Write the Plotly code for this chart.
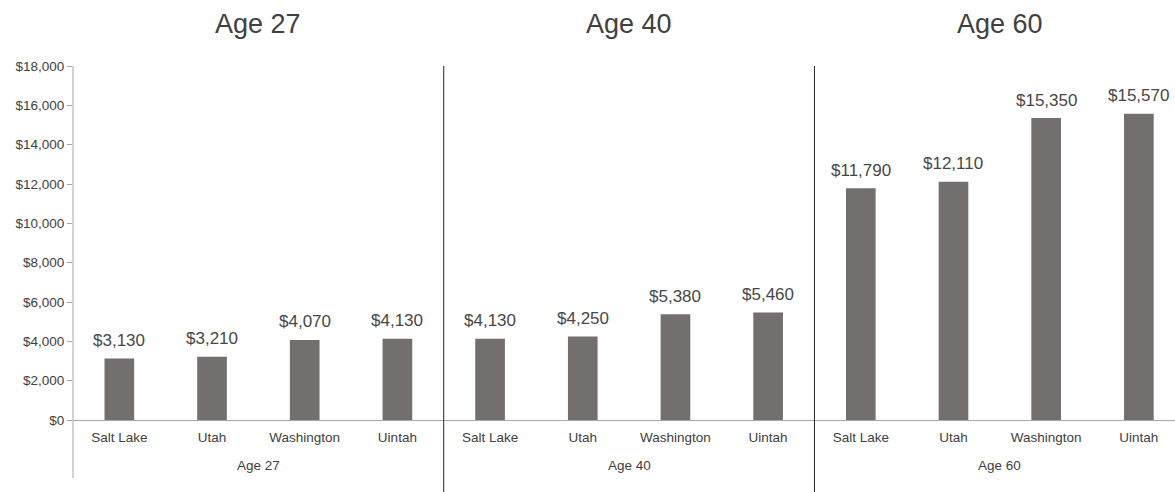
import plotly.graph_objects as go

groups = ["Age 27", "Age 40", "Age 60"]
counties = ["Salt Lake", "Utah", "Washington", "Uintah"]
values = {
    "Age 27": [3130, 3210, 4070, 4130],
    "Age 40": [4130, 4250, 5380, 5460],
    "Age 60": [11790, 12110, 15350, 15570],
}
y_ticks = [0, 2000, 4000, 6000, 8000, 10000, 12000, 14000, 16000, 18000]

FONT = "Liberation Sans, Arial, sans-serif"
TXT = "#404040"
LBL = "#474747"
BAR = "#736f6e"
AXIS = "#a6a6a6"

xs, ys, labels, ticktext = [], [], [], []
i = 0
for g in groups:
    for c, v in zip(counties, values[g]):
        xs.append(i)
        ys.append(v)
        labels.append(f"${v:,}")
        ticktext.append(c)
        i += 1

fig = go.Figure()
fig.add_trace(go.Bar(
    x=xs, y=ys,
    marker=dict(color=BAR, line=dict(width=0)),
    width=0.32, showlegend=False, hoverinfo="x+y",
))

# data labels above the bars
for x, y, t in zip(xs, ys, labels):
    fig.add_annotation(x=x, y=y, xref="x", yref="y", text=t, showarrow=False,
                       yanchor="middle", yshift=18,
                       font=dict(size=17, color=LBL, family=FONT))

W, H = 1175, 492
top, bottom, left = 66, 420, 73
plot_h = bottom - top

fig.update_layout(
    width=W, height=H,
    margin=dict(l=left, r=0, t=top, b=H - bottom, pad=0),
    paper_bgcolor="white", plot_bgcolor="white",
    font=dict(family=FONT, color=TXT),
    xaxis=dict(
        range=[-0.5, 11.39], tickvals=xs, ticktext=ticktext,
        showgrid=False, zeroline=False, showline=True, linecolor=AXIS,
        linewidth=1, ticks="outside", ticklen=5, tickcolor="rgba(0,0,0,0)",
        tickfont=dict(size=13.5, color=TXT, family=FONT),
    ),
    yaxis=dict(
        range=[0, 18000], tickvals=y_ticks,
        ticktext=[f"${v:,}" for v in y_ticks],
        showgrid=False, zeroline=False, showline=False,
        ticks="outside", ticklen=5, tickcolor=AXIS,
        tickfont=dict(size=13.5, color=TXT, family=FONT),
    ),
)

# y axis line extending below the plot
fig.add_shape(type="line", xref="paper", yref="paper", x0=0, x1=0,
              y0=-(478 - bottom) / plot_h, y1=1,
              line=dict(color=AXIS, width=1))
# group separators
for k in range(1, len(groups)):
    xsep = k * len(counties) - 0.5
    fig.add_shape(type="line", xref="x", yref="paper", x0=xsep, x1=xsep,
                  y0=-(H - bottom) / plot_h, y1=1,
                  line=dict(color="#262626", width=1))

for k, g in enumerate(groups):
    xc = k * len(counties) + (len(counties) - 1) / 2
    fig.add_annotation(x=xc, xref="x", y=(bottom - 24) / plot_h, yref="paper",
                       text=g, showarrow=False, yanchor="middle",
                       font=dict(size=27, color=TXT, family=FONT))
    fig.add_annotation(x=xc, xref="x", y=-(465 - bottom) / plot_h, yref="paper",
                       text=g, showarrow=False, yanchor="middle",
                       font=dict(size=13.5, color=TXT, family=FONT))

fig.write_html(
    "out.html",
    config={"displayModeBar": False},
    post_script="document.body.style.margin='0';document.body.style.overflow='hidden';",
)
